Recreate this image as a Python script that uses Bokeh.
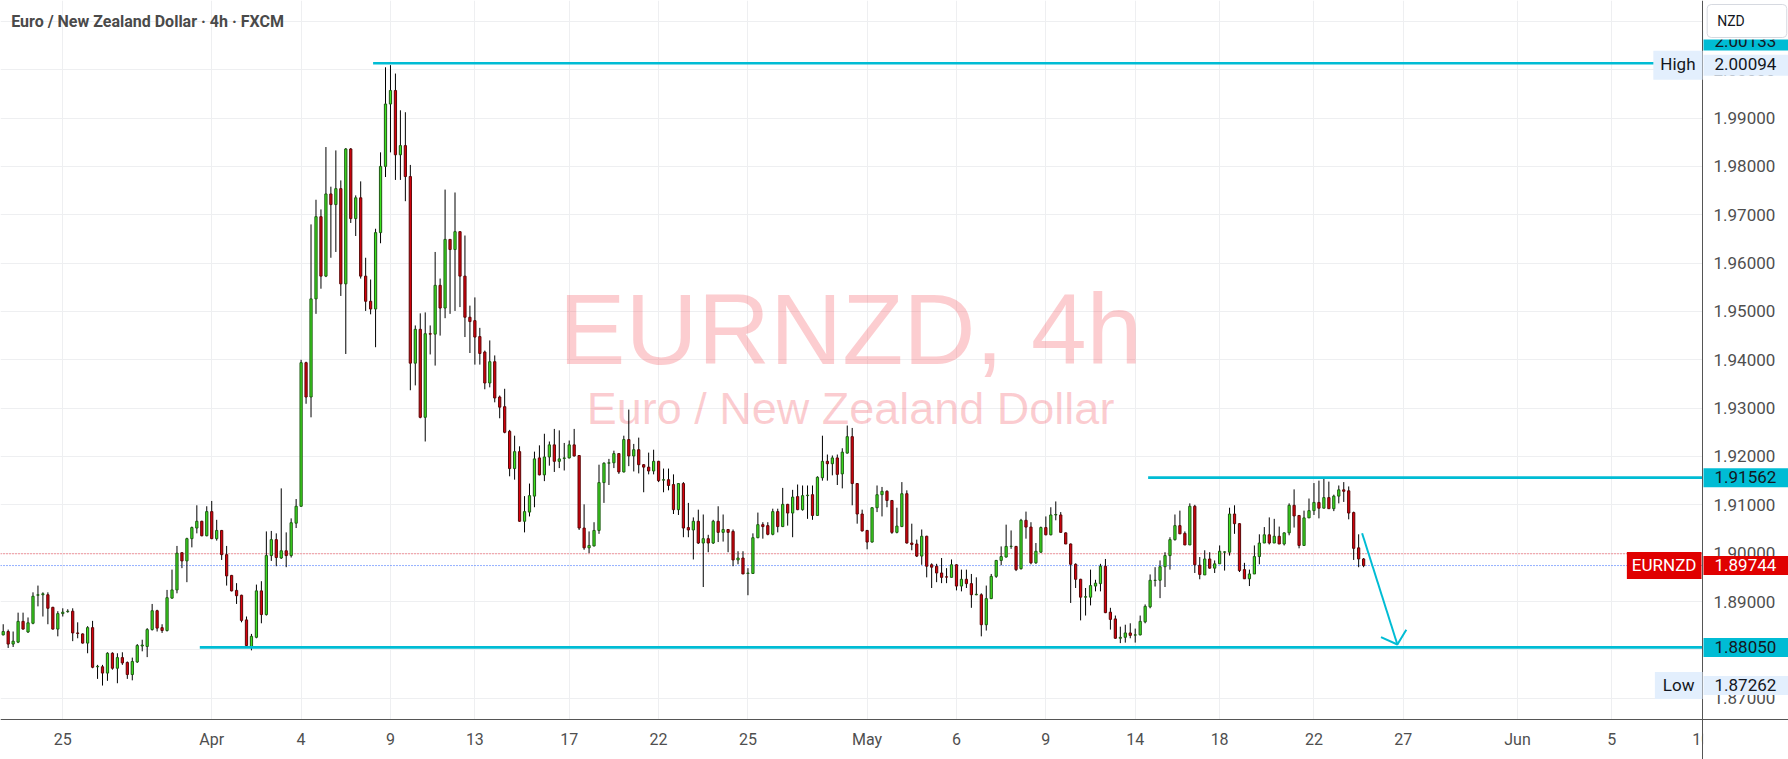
from bokeh.plotting import figure
from bokeh.models import (Range1d, FixedTicker, PrintfTickFormatter, Label,
                          BoxAnnotation, ColumnDataSource)
from bokeh.embed import file_html
from bokeh.resources import INLINE

# ---------------- data (EURNZD, 4h bars) ----------------
bar_index = list(range(275))

opens = [
 1.8831, 1.8838, 1.8812, 1.8816, 1.8859, 1.8837, 1.8855, 1.8913, 1.8914, 1.8914,
 1.8888, 1.8843, 1.8875, 1.8879, 1.8880, 1.8835, 1.8833, 1.8814, 1.8846, 1.8765,
 1.8765, 1.8752, 1.8793, 1.8762, 1.8784, 1.8774, 1.8749, 1.8775, 1.8808, 1.8807,
 1.8842, 1.8881, 1.8846, 1.8840, 1.8907, 1.8924, 1.9001, 1.8984, 1.9030, 1.9052,
 1.9066, 1.9036, 1.9086, 1.9030, 1.9047, 1.8997, 1.8954, 1.8923, 1.8913, 1.8862,
 1.8807, 1.8826, 1.8922, 1.8873, 1.8995, 1.9028, 1.8990, 1.9005, 1.8995, 1.9062,
 1.9097, 1.9394, 1.9323, 1.9526, 1.9696, 1.9573, 1.9743, 1.9721, 1.9754, 1.9557,
 1.9836, 1.9692, 1.9735, 1.9573, 1.9521, 1.9505, 1.9663, 1.9800, 1.9929, 1.9957,
 1.9824, 1.9843, 1.9779, 1.9393, 1.9463, 1.9281, 1.9454, 1.9453, 1.9554, 1.9507,
 1.9649, 1.9628, 1.9665, 1.9573, 1.9488, 1.9481, 1.9448, 1.9416, 1.9352, 1.9396,
 1.9323, 1.9303, 1.9252, 1.9175, 1.9210, 1.9066, 1.9085, 1.9118, 1.9197, 1.9162,
 1.9199, 1.9224, 1.9190, 1.9196, 1.9197, 1.9224, 1.9202, 1.9052, 1.9011, 1.9015,
 1.9047, 1.9146, 1.9186, 1.9187, 1.9206, 1.9168, 1.9235, 1.9201, 1.9214, 1.9183,
 1.9178, 1.9170, 1.9190, 1.9151, 1.9152, 1.9142, 1.9090, 1.9144, 1.9053, 1.9048,
 1.9066, 1.9021, 1.9030, 1.9021, 1.9066, 1.9043, 1.9049, 1.9045, 1.8986, 1.8990,
 1.8958, 1.8958, 1.9032, 1.9059, 1.9057, 1.9039, 1.9086, 1.9055, 1.9101, 1.9083,
 1.9117, 1.9090, 1.9119, 1.9121, 1.9078, 1.9156, 1.9190, 1.9185, 1.9197, 1.9164,
 1.9207, 1.9241, 1.9144, 1.9081, 1.9047, 1.9023, 1.9094, 1.9121, 1.9128, 1.9109,
 1.9043, 1.9055, 1.9123, 1.9021, 1.9019, 1.8994, 1.9035, 1.8976, 1.8973, 1.8959,
 1.89511, 1.8950, 1.8976, 1.8932, 1.8946, 1.8937, 1.8914, 1.8914, 1.8852, 1.8906,
 1.8952, 1.8985, 1.8992, 1.90138, 1.9014, 1.8968, 1.9068, 1.9054, 1.8980, 1.9002,
 1.9053, 1.9038, 1.9079, 1.9079, 1.9042, 1.9019, 1.8977, 1.8946, 1.8909, 1.8909,
 1.8932, 1.8937, 1.8973, 1.8878, 1.8864, 1.8824, 1.8826, 1.8835, 1.88305, 1.8831,
 1.8858, 1.8889, 1.89435, 1.8944, 1.8972, 1.8995, 1.9028, 1.9057, 1.9041, 1.9017,
 1.9097, 1.8975, 1.8955, 1.8988, 1.8969, 1.8978, 1.90020, 1.9002, 1.9081, 1.9061,
 1.8966, 1.8947, 1.8957, 1.8993, 1.9021, 1.9038, 1.9021, 1.9035, 1.9019, 1.9042,
 1.9099, 1.9078, 1.9016, 1.9073, 1.9088, 1.9105, 1.9093, 1.9115, 1.9092, 1.9118,
 1.9131, 1.9129, 1.9084, 1.9011, 1.8988,
]

highs = [
 1.8853, 1.8842, 1.8838, 1.8877, 1.8877, 1.8867, 1.8919, 1.8933, 1.8919, 1.8919,
 1.8889, 1.8880, 1.8886, 1.8884, 1.8886, 1.8857, 1.8834, 1.8849, 1.8860, 1.8769,
 1.8769, 1.8795, 1.8795, 1.8793, 1.8795, 1.8776, 1.8784, 1.8812, 1.8821, 1.8845,
 1.8895, 1.8883, 1.8853, 1.8924, 1.8966, 1.9015, 1.9001, 1.9032, 1.9055, 1.9099,
 1.9067, 1.9097, 1.9108, 1.9069, 1.9048, 1.9015, 1.8955, 1.8938, 1.8914, 1.8869,
 1.8833, 1.8935, 1.8942, 1.9045, 1.9046, 1.9041, 1.9134, 1.9043, 1.9072, 1.9112,
 1.9400, 1.9396, 1.9680, 1.9731, 1.9711, 1.9840, 1.9758, 1.9833, 1.9771, 1.9838,
 1.9838, 1.9740, 1.9769, 1.9611, 1.9566, 1.9671, 1.9829, 2.0005, 2.00094, 1.9992,
 1.9916, 1.9912, 1.9803, 1.9471, 1.9496, 1.9498, 1.9471, 1.9623, 1.9568, 1.9752,
 1.9649, 1.9746, 1.9665, 1.9657, 1.9512, 1.9529, 1.9466, 1.9419, 1.9440, 1.9409,
 1.9326, 1.9340, 1.9255, 1.9243, 1.9221, 1.9118, 1.9144, 1.9210, 1.9223, 1.9247,
 1.9231, 1.9257, 1.9254, 1.9228, 1.9233, 1.9257, 1.9202, 1.9101, 1.9045, 1.9064,
 1.9183, 1.9188, 1.9195, 1.9212, 1.9206, 1.9243, 1.9297, 1.9226, 1.9239, 1.9184,
 1.9208, 1.9214, 1.9191, 1.9175, 1.9175, 1.9163, 1.9145, 1.9147, 1.9104, 1.9074,
 1.9090, 1.9080, 1.9038, 1.9069, 1.9097, 1.9080, 1.9050, 1.9049, 1.9004, 1.9004,
 1.8969, 1.9041, 1.9084, 1.9064, 1.9064, 1.9092, 1.9092, 1.9135, 1.9102, 1.9131,
 1.9142, 1.9140, 1.9140, 1.9140, 1.9159, 1.9243, 1.9204, 1.9202, 1.9204, 1.9217,
 1.9264, 1.9259, 1.9145, 1.9090, 1.9048, 1.9095, 1.9140, 1.9137, 1.9130, 1.9110,
 1.9094, 1.9147, 1.9130, 1.9061, 1.9028, 1.9049, 1.9036, 1.8979, 1.8978, 1.8990,
 1.8969, 1.8987, 1.8977, 1.8966, 1.8966, 1.8957, 1.8950, 1.8917, 1.8933, 1.8957,
 1.8986, 1.9014, 1.9059, 1.9047, 1.9015, 1.9071, 1.9086, 1.9064, 1.9021, 1.9055,
 1.9076, 1.9095, 1.9107, 1.9085, 1.9043, 1.9020, 1.8979, 1.8947, 1.8928, 1.8966,
 1.8945, 1.8978, 1.8988, 1.8887, 1.8871, 1.8848, 1.8852, 1.8855, 1.8844, 1.8871,
 1.8894, 1.8956, 1.8971, 1.8985, 1.9002, 1.9033, 1.9080, 1.9088, 1.9045, 1.9103,
 1.9100, 1.8992, 1.9006, 1.9002, 1.8985, 1.9016, 1.9004, 1.9094, 1.9099, 1.9062,
 1.8980, 1.8966, 1.9016, 1.9039, 1.9054, 1.9074, 1.9071, 1.9055, 1.9043, 1.9103,
 1.9132, 1.9078, 1.9088, 1.9113, 1.9145, 1.9150, 1.91562, 1.9148, 1.9121, 1.9140,
 1.9147, 1.9138, 1.9086, 1.9039, 1.8990,
]

lows = [
 1.8830, 1.8804, 1.8806, 1.8814, 1.8842, 1.8835, 1.8853, 1.8890, 1.8869, 1.8853,
 1.8842, 1.8828, 1.8869, 1.8877, 1.8818, 1.8824, 1.8813, 1.8793, 1.8762, 1.8740,
 1.87262, 1.8736, 1.8759, 1.8731, 1.8769, 1.8740, 1.8737, 1.8773, 1.8797, 1.8785,
 1.8840, 1.8838, 1.8835, 1.8838, 1.8906, 1.8917, 1.8969, 1.8940, 1.9012, 1.9041,
 1.9035, 1.9035, 1.9029, 1.9026, 1.8986, 1.8933, 1.8921, 1.8895, 1.8857, 1.8807,
 1.8799, 1.8824, 1.8855, 1.8871, 1.8984, 1.8973, 1.8988, 1.8971, 1.8991, 1.9052,
 1.9096, 1.9309, 1.9281, 1.9495, 1.9547, 1.9571, 1.9611, 1.9623, 1.9532, 1.9412,
 1.9683, 1.9656, 1.9568, 1.9501, 1.9494, 1.9426, 1.9641, 1.9778, 1.9829, 1.9772,
 1.9772, 1.9728, 1.9337, 1.9347, 1.9279, 1.9231, 1.9411, 1.9388, 1.9450, 1.9486,
 1.9495, 1.9501, 1.9509, 1.9447, 1.9414, 1.9390, 1.9390, 1.9339, 1.9343, 1.9312,
 1.9279, 1.9248, 1.9159, 1.9152, 1.9065, 1.9043, 1.9076, 1.9095, 1.9161, 1.9149,
 1.9181, 1.9168, 1.9176, 1.9171, 1.9196, 1.9200, 1.9048, 1.9007, 1.9000, 1.9014,
 1.9040, 1.9104, 1.9141, 1.9176, 1.9164, 1.9167, 1.9180, 1.9169, 1.9165, 1.9126,
 1.9163, 1.9163, 1.9147, 1.9126, 1.9130, 1.9081, 1.9079, 1.9033, 1.9033, 1.8987,
 1.9019, 1.8930, 1.9002, 1.9019, 1.9023, 1.9024, 1.9002, 1.8973, 1.8977, 1.8957,
 1.8913, 1.8957, 1.9031, 1.9030, 1.9037, 1.9037, 1.9043, 1.9054, 1.9057, 1.9033,
 1.9089, 1.9088, 1.9071, 1.9069, 1.9077, 1.9150, 1.9150, 1.9161, 1.9141, 1.9134,
 1.9206, 1.9099, 1.9061, 1.9045, 1.9008, 1.9022, 1.9085, 1.9076, 1.9095, 1.9040,
 1.9041, 1.9054, 1.9020, 1.9006, 1.8992, 1.8976, 1.8950, 1.8928, 1.8940, 1.8938,
 1.8938, 1.8950, 1.8923, 1.8921, 1.8928, 1.8887, 1.8913, 1.8828, 1.8840, 1.8905,
 1.8949, 1.8975, 1.8991, 1.9009, 1.8963, 1.8966, 1.9030, 1.8977, 1.8978, 1.9001,
 1.9037, 1.9037, 1.9068, 1.9043, 1.9019, 1.8897, 1.8928, 1.8861, 1.8871, 1.8892,
 1.8921, 1.8921, 1.8876, 1.8842, 1.8823, 1.8814, 1.8815, 1.8824, 1.8815, 1.8830,
 1.8855, 1.8886, 1.8931, 1.8907, 1.8930, 1.8966, 1.9026, 1.9040, 1.9017, 1.9017,
 1.8959, 1.8946, 1.8955, 1.8968, 1.8959, 1.8978, 1.8964, 1.8995, 1.9040, 1.8961,
 1.8947, 1.8932, 1.8957, 1.8977, 1.9021, 1.9018, 1.9021, 1.9019, 1.9016, 1.9037,
 1.9053, 1.9010, 1.9016, 1.9073, 1.9079, 1.9072, 1.9093, 1.9092, 1.9087, 1.9103,
 1.9106, 1.9070, 1.8986, 1.8971, 1.8971,
]

closes = [
 1.8838, 1.8812, 1.8818, 1.8859, 1.8843, 1.8856, 1.8911, 1.8914, 1.8916, 1.8886,
 1.8843, 1.8875, 1.8878, 1.8880, 1.8835, 1.8834, 1.8814, 1.8846, 1.8764, 1.8766,
 1.8752, 1.8793, 1.8762, 1.8784, 1.8773, 1.8749, 1.8776, 1.8809, 1.8810, 1.8842,
 1.8881, 1.8845, 1.8840, 1.8908, 1.8924, 1.9000, 1.8984, 1.9030, 1.9053, 1.9066,
 1.9036, 1.9086, 1.9030, 1.9047, 1.8997, 1.8953, 1.8922, 1.8912, 1.8861, 1.8809,
 1.8828, 1.8922, 1.8873, 1.8995, 1.9028, 1.8991, 1.9005, 1.8995, 1.9063, 1.9097,
 1.9394, 1.9323, 1.9526, 1.9696, 1.9573, 1.9743, 1.9721, 1.9754, 1.9557, 1.9836,
 1.9692, 1.9735, 1.9573, 1.9521, 1.9505, 1.9663, 1.9800, 1.9929, 1.9957, 1.9824,
 1.9843, 1.9779, 1.9393, 1.9463, 1.9281, 1.9454, 1.9453, 1.9554, 1.9507, 1.9649,
 1.9628, 1.9665, 1.9573, 1.9488, 1.9479, 1.9447, 1.9413, 1.9352, 1.9396, 1.9321,
 1.9302, 1.9250, 1.9175, 1.9210, 1.9066, 1.9086, 1.9119, 1.9195, 1.9162, 1.9199,
 1.9224, 1.9190, 1.9195, 1.9197, 1.9224, 1.9201, 1.9052, 1.9011, 1.9016, 1.9047,
 1.9146, 1.9186, 1.9187, 1.9206, 1.9168, 1.9235, 1.9201, 1.9214, 1.9183, 1.9178,
 1.9170, 1.9190, 1.9150, 1.9152, 1.9140, 1.9090, 1.9144, 1.9052, 1.9048, 1.9066,
 1.9021, 1.9030, 1.9021, 1.9066, 1.9043, 1.9049, 1.9043, 1.8986, 1.8990, 1.8957,
 1.8959, 1.9032, 1.9059, 1.9055, 1.9039, 1.9086, 1.9055, 1.9101, 1.9083, 1.9116,
 1.9090, 1.9119, 1.9120, 1.9078, 1.9157, 1.9190, 1.9185, 1.9197, 1.9163, 1.9209,
 1.9241, 1.9144, 1.9081, 1.9046, 1.9023, 1.9094, 1.9121, 1.9128, 1.9109, 1.9043,
 1.9056, 1.9123, 1.9021, 1.9018, 1.8994, 1.9035, 1.8973, 1.8971, 1.8959, 1.8950,
 1.89505, 1.8976, 1.8932, 1.8946, 1.8937, 1.8914, 1.8915, 1.8852, 1.8906, 1.8952,
 1.8985, 1.8993, 1.9014, 1.90144, 1.8966, 1.9068, 1.9054, 1.8980, 1.9004, 1.9053,
 1.9038, 1.9079, 1.9080, 1.9043, 1.9019, 1.8977, 1.8946, 1.8909, 1.8910, 1.8933,
 1.8938, 1.8973, 1.8877, 1.8863, 1.8824, 1.8826, 1.8835, 1.8830, 1.88311, 1.8859,
 1.8890, 1.8944, 1.89441, 1.8972, 1.8995, 1.9028, 1.9057, 1.9040, 1.9017, 1.9097,
 1.8976, 1.8956, 1.8988, 1.8969, 1.8978, 1.9004, 1.90027, 1.9081, 1.9061, 1.8964,
 1.8947, 1.8957, 1.8993, 1.9021, 1.9038, 1.9021, 1.9035, 1.9019, 1.9042, 1.9099,
 1.9077, 1.9016, 1.9073, 1.9088, 1.9105, 1.9093, 1.9115, 1.9092, 1.9118, 1.9131,
 1.9128, 1.9083, 1.9010, 1.8988, 1.89744,
]

price_ticks = [1.87, 1.88, 1.89, 1.90, 1.91, 1.92, 1.93, 1.94, 1.95, 1.96,
               1.97, 1.98, 1.99, 2.00, 2.01]
date_tick_bars = [12, 42, 60, 78, 95, 114, 132, 150, 174, 192, 210, 228, 245,
                  264, 282, 305, 324, 342]
date_tick_labels = ["25", "Apr", "4", "9", "13", "17", "22", "25", "May", "6",
                    "9", "14", "18", "22", "27", "Jun", "5", "10"]

# drawings
level_prices = [2.00133, 1.91562, 1.88050]
level_start_bars = [74.5, 230.6, 39.6]
arrow_bars = [273.7, 280.8]
arrow_prices = [1.90413, 1.88111]
arrow_head_bars = [277.5, 280.8, 282.6]
arrow_head_prices = [1.88262, 1.88111, 1.88415]

last_price = 1.89744
prev_price = 1.89988
high_price = 2.00094
low_price = 1.87262

# ---------------- layout constants ----------------
W, H = 1788, 759
PANE_W, PANE_H = 1702, 719        # price pane (left of the price scale, above time scale)
PX_PER_BAR = 4.965
X0_PX = 2.7
PRICE_TOP = 2.01431
PRICE_PER_PX = 0.00020683


def xd(px):
    return (px - X0_PX) / PX_PER_BAR


def yd(py):
    return PRICE_TOP - py * PRICE_PER_PX


p = figure(width=W, height=H,
           x_range=Range1d(xd(0), xd(W)),
           y_range=Range1d(yd(H), yd(0)),
           output_backend="svg", toolbar_location=None,
           y_axis_location="right")
p.min_border = 0
p.min_border_left = 0
p.min_border_right = 0
p.min_border_top = 0
p.min_border_bottom = 0
p.outline_line_color = None
p.background_fill_color = "white"
p.border_fill_color = "white"

GRID = "#eeeff1"
AXIS_TXT = "#4f4f4f"
AXIS_LINE = "#555555"

# axes (pinned at the pane edges)
p.yaxis.fixed_location = xd(PANE_W)
p.yaxis.ticker = FixedTicker(ticks=price_ticks)
p.yaxis.formatter = PrintfTickFormatter(format="%.5f")
p.yaxis.major_label_text_font = "Roboto"
p.yaxis.major_label_text_font_size = "17px"
p.yaxis.major_label_text_color = AXIS_TXT
p.yaxis.major_tick_out = 0
p.yaxis.major_tick_in = 0
p.yaxis.minor_tick_out = 0
p.yaxis.minor_tick_in = 0
p.yaxis.major_label_standoff = 11
p.yaxis.axis_line_color = AXIS_LINE

p.xaxis.fixed_location = yd(PANE_H)
p.xaxis.ticker = FixedTicker(ticks=date_tick_bars)
p.xaxis.major_label_overrides = {b: t for b, t in zip(date_tick_bars, date_tick_labels)}
p.xaxis.major_label_text_font = "Roboto"
p.xaxis.major_label_text_font_size = "16px"
p.xaxis.major_label_text_color = AXIS_TXT
p.xaxis.major_tick_out = 0
p.xaxis.major_tick_in = 0
p.xaxis.minor_tick_out = 0
p.xaxis.minor_tick_in = 0
p.xaxis.major_label_standoff = 10
p.xaxis.axis_line_color = AXIS_LINE

p.xgrid.ticker = FixedTicker(ticks=date_tick_bars[:-1])
p.ygrid.ticker = FixedTicker(ticks=price_ticks)
p.xgrid.grid_line_color = GRID
p.ygrid.grid_line_color = GRID

# keep grid lines inside the price pane
p.add_layout(BoxAnnotation(left=xd(PANE_W + 0.5), right=xd(W + 5), top=yd(-5), bottom=yd(H + 5),
                           fill_color="white", fill_alpha=1, line_color=None, level="underlay"))
p.add_layout(BoxAnnotation(left=xd(-5), right=xd(PANE_W + 1), top=yd(PANE_H + 0.5), bottom=yd(H + 5),
                           fill_color="white", fill_alpha=1, line_color=None, level="underlay"))

# watermark
WM = "#f23645"
p.add_layout(Label(x=xd(850), y=yd(328), text="EURNZD, 4h", text_align="center",
                   text_baseline="alphabetic", text_font="Liberation Sans",
                   text_font_size="100px", text_color=WM, text_alpha=0.25, level="underlay"))
p.add_layout(Label(x=xd(850), y=yd(408), text="Euro / New Zealand Dollar", text_align="center",
                   text_baseline="alphabetic", text_font="Liberation Sans",
                   text_font_size="45px", text_color=WM, text_alpha=0.25, level="underlay"))

# price lines (previous close / last price)
p.segment(x0=[xd(0)], y0=[prev_price], x1=[xd(PANE_W)], y1=[prev_price],
          line_color="#f23645", line_width=1, line_dash="1 2")
p.segment(x0=[xd(0)], y0=[last_price], x1=[xd(PANE_W)], y1=[last_price],
          line_color="#2962ff", line_width=1, line_dash="1 2")

# candles
up_fill, up_line = "#3de21e", "#1e5a14"
dn_fill, dn_line = "#d8000c", "#5a0808"
fills, lines, tops, bottoms = [], [], [], []
for o, c in zip(opens, closes):
    up = c >= o
    fills.append(up_fill if up else dn_fill)
    lines.append(up_line if up else dn_line)
    tops.append(max(o, c))
    bottoms.append(min(o, c))
src = ColumnDataSource(dict(x=bar_index, o=opens, h=highs, l=lows, c=closes,
                            top=tops, bottom=bottoms, fill=fills, line=lines))
p.segment(x0="x", y0="l", x1="x", y1="h", source=src, line_color="black", line_width=1)
p.vbar(x="x", width=0.45, top="top", bottom="bottom", source=src,
       fill_color="fill", line_color="line", line_width=1)

# horizontal levels and arrow
CYAN = "#00bcd4"
p.segment(x0=level_start_bars, y0=level_prices, x1=[xd(PANE_W)] * len(level_prices),
          y1=level_prices, line_color=CYAN, line_width=2.7)
p.line(arrow_bars, arrow_prices, line_color=CYAN, line_width=2)
p.line(arrow_head_bars, arrow_head_prices, line_color=CYAN, line_width=2)


# tags
def tag(px_x, price, text, fill, color, align="left", pl=11, pr=17, pt=3, pb=4,
        size="17px", border=None, radius=0, font="Roboto", baseline="middle"):
    p.add_layout(Label(x=xd(px_x), y=price, text=text, text_align=align,
                       text_baseline=baseline, text_font=font, text_font_size=size,
                       text_color=color, background_fill_color=fill,
                       background_fill_alpha=1.0, border_line_color=border,
                       padding=dict(left=pl, right=pr, top=pt, bottom=pb),
                       border_radius=radius))


TXT = "#131722"
LIGHT = "#e3effd"
tag(PANE_W + 1, yd(40), "2.00133", CYAN, TXT, pt=4, pb=4)
p.add_layout(BoxAnnotation(left=xd(PANE_W + 0.6), right=xd(W + 5), top=yd(-5), bottom=yd(39),
                           fill_color="white", fill_alpha=1, line_color=None))
tag(1706.7, yd(20.5), "NZD", "white", TXT, pl=10, pr=42, pt=8, pb=9, size="14px",
    border="#d6d9e0", radius=4)
tag(PANE_W + 1, high_price, "2.00094", LIGHT, TXT, pr=14, pt=3, pb=6)
tag(PANE_W, high_price, "High", LIGHT, TXT, align="right", pl=7, pr=7, pt=3, pb=6)
tag(PANE_W + 1, 1.91562, "1.91562", CYAN, TXT)
tag(PANE_W + 1, last_price, "1.89744", "#e00000", "white")
tag(PANE_W - 1, last_price, "EURNZD", "#e00000", "white", align="right", pl=5, pr=5)
tag(PANE_W + 1, 1.88050, "1.88050", CYAN, TXT)
tag(PANE_W + 1, low_price, "1.87262", LIGHT, TXT)
tag(PANE_W, low_price, "Low", LIGHT, TXT, align="right", pl=8, pr=8)

# hide the part of the last time label that runs under the price scale
p.add_layout(BoxAnnotation(left=xd(PANE_W + 0.6), right=xd(W + 5), top=yd(PANE_H + 0.6),
                           bottom=yd(H + 5), fill_color="white", fill_alpha=1, line_color=None))

# title
p.add_layout(Label(x=xd(10.7), y=yd(21), text="Euro / New Zealand Dollar · 4h · FXCM",
                   text_align="left", text_baseline="middle", text_font="Roboto",
                   text_font_style="bold", text_font_size="16px", text_color="#4a4a4a"))

open("out.html", "w").write(file_html(p, INLINE))
